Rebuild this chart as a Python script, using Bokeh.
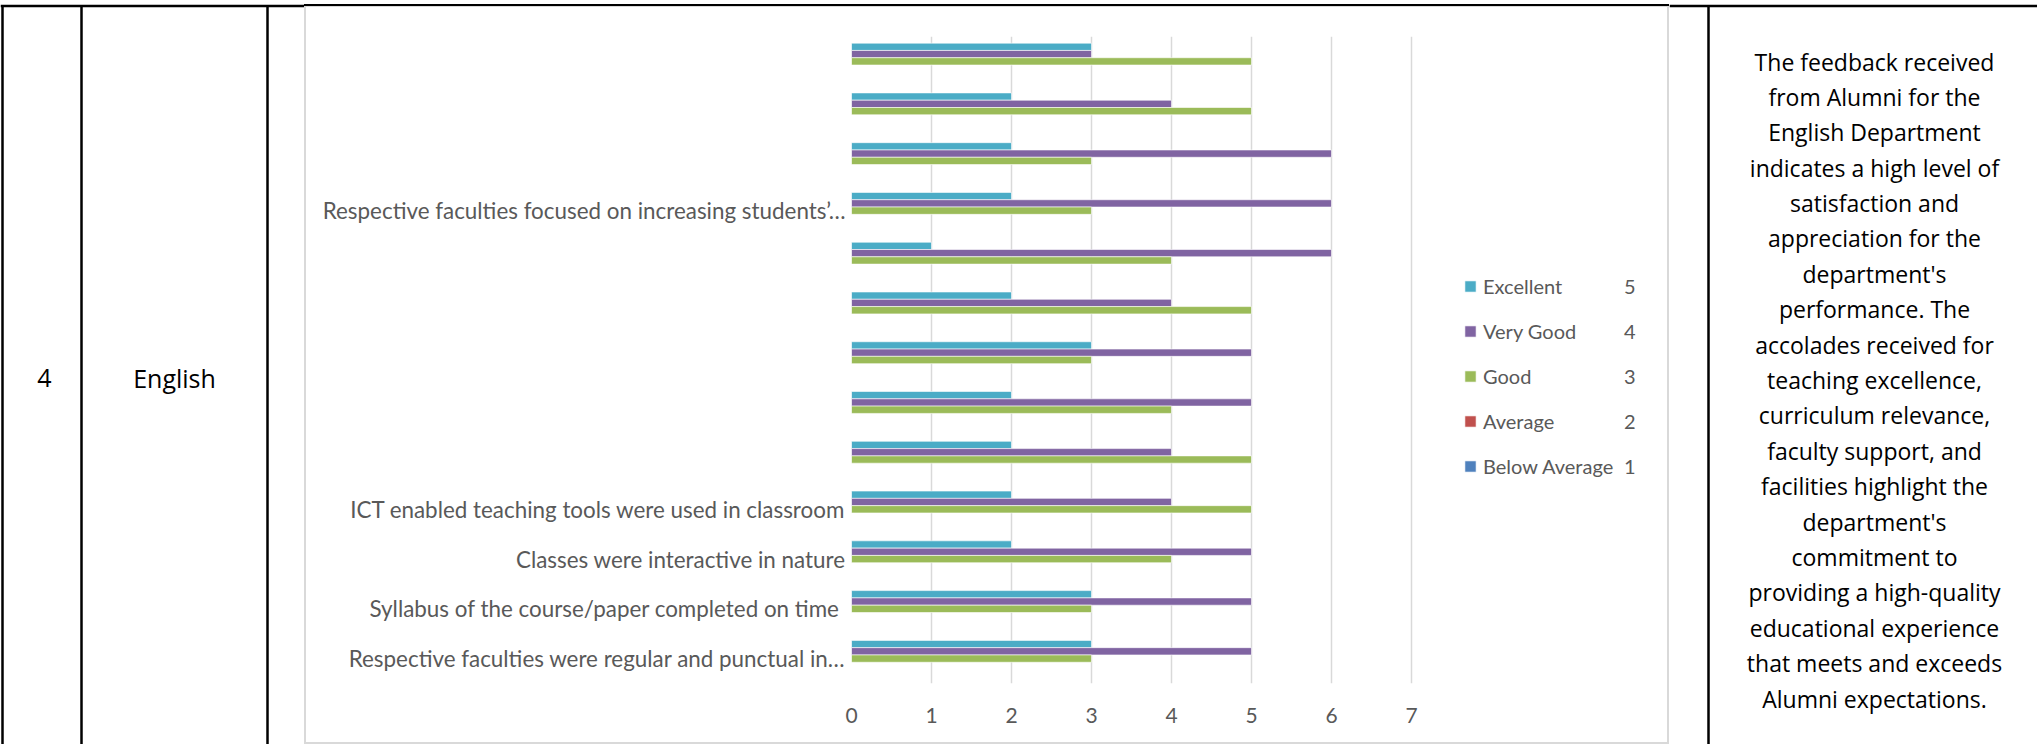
from bokeh.plotting import figure
from bokeh.models import Range1d, FixedTicker, Legend, LegendItem, Div, ColumnDataSource
from bokeh.layouts import row, column
from bokeh.embed import file_html
from bokeh.resources import INLINE
from bokeh.core.properties import value

# ---------------- data (bottom category first, as in the sheet) ----------------
categories = [
    "Respective faculties were regular and punctual in…",
    "Syllabus of the course/paper  completed on time",
    "Classes were interactive in nature",
    "ICT enabled teaching tools were used in classroom",
    "", "", "", "", "",
    "Respective faculties focused on increasing students’…",
    "", "", "",
]
excellent     = [3, 3, 2, 2, 2, 2, 3, 2, 1, 2, 2, 2, 3]
very_good     = [5, 5, 5, 4, 4, 5, 5, 4, 6, 6, 6, 4, 3]
good          = [3, 3, 4, 5, 5, 4, 3, 5, 4, 3, 3, 5, 5]
average       = [0, 0, 0, 0, 0, 0, 0, 0, 0, 0, 0, 0, 0]
below_average = [0, 0, 0, 0, 0, 0, 0, 0, 0, 0, 0, 0, 0]

series_names = ["Excellent", "Very Good", "Good", "Average", "Below Average"]
series_scores = ["5", "4", "3", "2", "1"]
series_values = [excellent, very_good, good, average, below_average]
series_colors = ["#4BACC6", "#8064A2", "#9BBB59", "#C0504D", "#4F81BD"]
x_ticks = [0, 1, 2, 3, 4, 5, 6, 7]
x_max = 7

row_number = "4"
department = "English"
remarks = [
    "The feedback received",
    "from Alumni for the",
    "English Department",
    "indicates a high level of",
    "satisfaction and",
    "appreciation for the",
    "department's",
    "performance. The",
    "accolades received for",
    "teaching excellence,",
    "curriculum relevance,",
    "faculty support, and",
    "facilities highlight the",
    "department's",
    "commitment to",
    "providing a high-quality",
    "educational experience",
    "that meets and exceeds",
    "Alumni expectations.",
]

H = 744
CHART_FONT = "Lato"
TABLE_FONT = "Open Sans"
LABEL_COLOR = "#595959"
GRAY = "#d9d9d9"


def blank_fig(w, h):
    f = figure(width=w, height=h, x_range=Range1d(0, w), y_range=Range1d(h, 0),
               output_backend="svg", toolbar_location=None,
               x_axis_location=None, y_axis_location=None,
               min_border=0, outline_line_color=None)
    f.grid.visible = False
    f.background_fill_color = "white"
    f.border_fill_color = "white"
    return f


# ---------------- left table part ----------------
LW = 304
left = blank_fig(LW, H)
left.segment(x0=[0, 2, 81, 267], y0=[5.5, 4.5, 4.5, 4.5], x1=[LW, 2, 81, 267], y1=[5.5, H, H, H],
             line_color="black", line_width=2.5)
left.text(x=[44, 174], y=[377, 377], text=[row_number, department],
          text_font=value(TABLE_FONT), text_font_size="25px", text_color="black",
          text_align="center", text_baseline="middle")

# ---------------- chart ----------------
CW, CH = 1361, 735
FL, FT, FB = 545, 29, 59          # frame borders (px)
frame_w = CW - FL
unit_px = 560 / x_max             # 0..7 spans 560 px like the reference
p = figure(width=CW, height=CH, x_range=Range1d(0, frame_w / unit_px),
           y_range=Range1d(0.5, len(categories) + 0.5),
           output_backend="svg", toolbar_location=None,
           min_border_left=FL, min_border_right=0, min_border_top=FT, min_border_bottom=FB)
p.outline_line_color = None
p.background_fill_color = "white"
p.border_fill_color = "white"

n = len(categories)
pitch = 0.1466
renderers = []
for k, (name, vals, col) in enumerate(zip(series_names, series_values, series_colors)):
    offset = (2 - k) * pitch
    src = ColumnDataSource(dict(y=[i + 1 + offset for i in range(n)], right=vals))
    r = p.hbar(y="y", left=0, right="right", height=pitch, source=src,
               fill_color=col, line_color="white", line_alpha=0.6, line_width=1)
    renderers.append(r)

p.xgrid.ticker = FixedTicker(ticks=x_ticks)
p.xgrid.grid_line_color = GRAY
p.xgrid.grid_line_width = 1.5
p.ygrid.visible = False

p.xaxis.ticker = FixedTicker(ticks=x_ticks)
p.xaxis.axis_line_color = None
p.xaxis.major_tick_line_color = None
p.xaxis.minor_tick_line_color = None
p.xaxis.major_label_standoff = 18
p.xaxis.major_label_text_font = CHART_FONT
p.xaxis.major_label_text_font_size = "21px"
p.xaxis.major_label_text_color = LABEL_COLOR

p.yaxis.ticker = FixedTicker(ticks=list(range(1, n + 1)))
p.yaxis.major_label_overrides = {i + 1: lab for i, lab in enumerate(categories)}
p.yaxis.axis_line_color = None
p.yaxis.major_tick_line_color = None
p.yaxis.minor_tick_line_color = None
p.yaxis.major_label_standoff = 0
p.yaxis.major_label_text_font = CHART_FONT
p.yaxis.major_label_text_font_size = "22.4px"
p.yaxis.major_label_text_color = LABEL_COLOR

common = dict(orientation="vertical", glyph_height=14, spacing=21, label_height=20,
              padding=0, margin=0, border_line_color=None, background_fill_alpha=0,
              label_text_font=CHART_FONT, label_text_font_size="20px",
              label_text_color=LABEL_COLOR)
leg = Legend(items=[LegendItem(label=nm, renderers=[r]) for nm, r in zip(series_names, renderers)],
             location=(612, 205), glyph_width=14, label_standoff=6, **common)
leg_num = Legend(items=[LegendItem(label=sc, renderers=[r]) for sc, r in zip(series_scores, renderers)],
                 location=(773, 205), glyph_width=0, label_standoff=0, **common)
p.add_layout(leg)
p.add_layout(leg_num)


def bar_div(w, h, color=None):
    styles = {"background-color": color} if color else {}
    return Div(text="", width=w, height=h, margin=0, styles=styles)


MW = CW + 4
middle = column(
    bar_div(MW, 4),
    bar_div(MW, 2, "black"),
    bar_div(MW, 1, GRAY),
    row(bar_div(2, CH, GRAY), p, bar_div(2, CH, GRAY), spacing=0),
    bar_div(MW, 2, GRAY),
    spacing=0,
)

# ---------------- right table part ----------------
RW = 368
right = blank_fig(RW, H)
right.segment(x0=[0, 39], y0=[5.5, 4.5], x1=[RW, 39], y1=[5.5, H], line_color="black", line_width=2.5)
right.text(x=[205] * len(remarks), y=[61 + i * 35.39 for i in range(len(remarks))], text=remarks,
           text_font=value(TABLE_FONT), text_font_size="23px", text_color="black",
           text_align="center", text_baseline="middle")

layout = row(left, middle, right, spacing=0)
open("out.html", "w").write(file_html(layout, INLINE))
